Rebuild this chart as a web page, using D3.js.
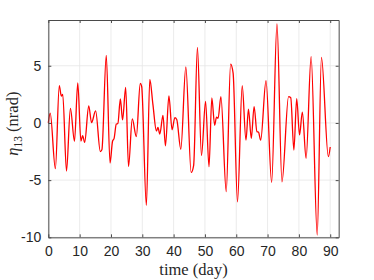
<!DOCTYPE html>
<html>
<head>
<meta charset="utf-8">
<script src="https://cdn.jsdelivr.net/npm/d3@7"></script>
<style>
  html, body { margin: 0; padding: 0; background: #fff; }
  svg { display: block; }
</style>
</head>
<body>
<div id="chart"></div>
<script>
// ---- data ----
const timeDays = [0, 0.6, 2.25, 3.5, 4.15, 4.6, 5.8, 7.05, 8.35, 9.4, 10.4, 10.95, 11.6, 12.9, 13.8, 15.1, 16.6, 17.1, 18.5, 19.7, 20.5, 21.0, 21.7, 22.2, 23.0, 23.7, 24.7, 25.6, 26.8, 28.1, 29.35, 29.8, 31.3, 32.4, 33.4, 34.5, 35.0, 35.6, 36.6, 37.4, 38.5, 39.5, 40.4, 41.0, 42.3, 43.9, 45.6, 46.4, 47.6, 48.9, 50.2, 51.3, 52.2, 53.1, 53.7, 54.2, 55.1, 56.8, 58.2, 59.0, 60.4, 61.9, 63.1, 63.9, 64.8, 65.7, 66.6, 67.1, 67.8, 69.5, 71.3, 73.0, 74.6, 76.7, 77.4, 78.4, 79.3, 80.2, 81.1, 82.3, 83.9, 85.85, 87.2, 89.4, 90.0];
const eta13 = [0, 0.85, -4.0, 3.25, 2.35, 2.5, -4.2, 1.28, -1.6, 3.5, -1.58, -1.1, -1.7, 1.5, 0.03, 1.05, -2.5, -2.35, 5.9, -3.5, -1.6, -1.35, -0.1, -0.05, 2.1, 0.26, 3.1, -3.8, 0.35, -1.2, 3.45, 3.2, -7.2, 3.8, 1.6, -0.7, -0.4, -0.97, 0.67, -2.0, 2.37, -0.6, 0.47, 0.3, -2.3, 4.9, -4.33, -3.7, 6.6, -2.85, 1.88, -3.83, 2.2, -0.2, 0.5, 0.4, 2.3, -6.0, 5.15, 4.35, -6.9, 3.25, -1.5, 1.2, -1.35, 1.43, -0.76, -0.8, -1.5, 3.7, -5.2, 8.65, -5.15, 2.3, 2.2, -2.37, 2.13, -1.05, 0.94, -3.1, 5.8, -9.8, 5.73, -2.95, -2.1];
const xTicks = [0, 10, 20, 30, 40, 50, 60, 70, 80, 90];
const yTicks = [-10, -5, 0, 5];
const xDomain = [0, 92.7];
const yDomain = [-10, 9];

// ---- layout ----
const W = 374, H = 280;
const mLeft = 48.33, mRight = 338.67, mTop = 20, mBottom = 237.33;

const svg = d3.select("#chart").append("svg")
  .attr("width", W).attr("height", H);

const x = d3.scaleLinear().domain(xDomain).range([mLeft, mRight]);
const y = d3.scaleLinear().domain(yDomain).range([mBottom, mTop]);

// grid
const grid = svg.append("g").attr("stroke", "#e6e6e6").attr("stroke-width", 0.8);
grid.selectAll("line.gx").data(xTicks).join("line")
  .attr("x1", d => x(d)).attr("x2", d => x(d))
  .attr("y1", mTop).attr("y2", mBottom);
grid.selectAll("line.gy").data(yTicks).join("line")
  .attr("y1", d => y(d)).attr("y2", d => y(d))
  .attr("x1", mLeft).attr("x2", mRight);

// data line
const pts = timeDays.map((t, i) => [t, eta13[i]]);
svg.append("path")
  .datum(pts)
  .attr("fill", "none")
  .attr("stroke", "#ff0000")
  .attr("stroke-width", 1.3)
  .attr("stroke-linejoin", "round")
  .attr("d", d3.line().x(d => x(d[0])).y(d => y(d[1])).curve(d3.curveMonotoneX));

// axes
const axisColor = "#4a4a4a";
const font = "'Liberation Sans', Arial, Helvetica, sans-serif";
function styleAxis(g, showLabels) {
  g.select(".domain").attr("stroke", axisColor).attr("stroke-width", 1);
  g.selectAll(".tick line").attr("stroke", axisColor).attr("stroke-width", 1);
  g.selectAll(".tick text").attr("fill", "#262626")
    .style("font-family", font).style("font-size", "14px");
  if (!showLabels) g.selectAll(".tick text").remove();
}
const tickLen = 3;
svg.append("g").attr("transform", `translate(0,${mBottom})`)
  .call(d3.axisBottom(x).tickValues(xTicks).tickSizeInner(-tickLen).tickSizeOuter(0).tickPadding(9))
  .call(g => styleAxis(g, true));
svg.append("g").attr("transform", `translate(0,${mTop})`)
  .call(d3.axisTop(x).tickValues(xTicks).tickSizeInner(-tickLen).tickSizeOuter(0))
  .call(g => styleAxis(g, false));
svg.append("g").attr("transform", `translate(${mLeft},0)`)
  .call(d3.axisLeft(y).tickValues(yTicks).tickSizeInner(-tickLen).tickSizeOuter(0).tickPadding(7)
    .tickFormat(d3.format("d")))
  .call(g => styleAxis(g, true));
svg.append("g").attr("transform", `translate(${mRight},0)`)
  .call(d3.axisRight(y).tickValues(yTicks).tickSizeInner(-tickLen).tickSizeOuter(0))
  .call(g => styleAxis(g, false));

// use hyphen-minus as in reference
svg.selectAll(".tick text").text(function() { return this.textContent.replace("\u2212", "-"); });

// axis labels
const serif = "'Liberation Serif', 'Times New Roman', serif";
svg.append("text")
  .attr("x", (mLeft + mRight) / 2).attr("y", 274.5)
  .attr("text-anchor", "middle")
  .style("font-family", serif).style("font-size", "16.5px").attr("fill", "#262626")
  .text("time (day)");

const yl = svg.append("text")
  .attr("transform", `translate(18,${(mTop + mBottom) / 2 - 5}) rotate(-90)`)
  .attr("text-anchor", "middle")
  .style("font-family", serif).style("font-size", "16.5px").attr("fill", "#262626");
yl.append("tspan").style("font-style", "italic").text("η");
yl.append("tspan").attr("dy", 3.5).style("font-size", "11.5px").text("13");
yl.append("tspan").attr("dy", -3.5).text(" (nrad)");
</script>
</body>
</html>
